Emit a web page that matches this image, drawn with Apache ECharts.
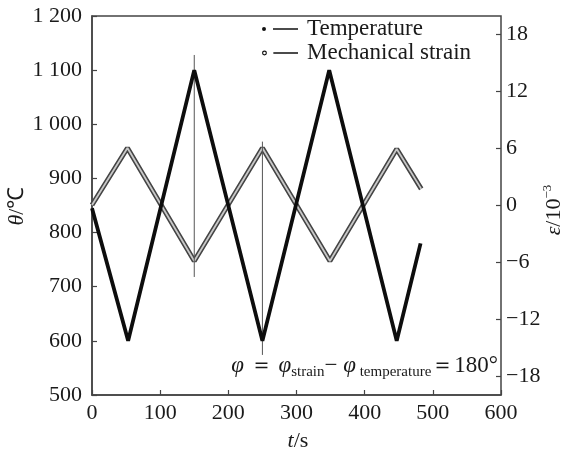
<!DOCTYPE html>
<html>
<head>
<meta charset="utf-8">
<script src="https://cdn.jsdelivr.net/npm/echarts@6/dist/echarts.min.js"></script>
<style>html,body{margin:0;padding:0;background:#fff;}#c{width:569px;height:454px;}</style>
</head>
<body>
<div id="c"></div>
<script>
// Data
const temperature = [[0, 845], [53, 600], [150, 1100], [250, 600], [348, 1100], [447, 600], [482, 780]];
const strain = [[0, 0], [52, 6], [150, -5.9], [250, 6], [349, -5.9], [447, 5.9], [483, 1.7]];
const guide1 = [[150, 1128], [150, 718]];
const guide2 = [[250, 968], [250, 574]];
const xRange = [0, 600, 100];
const leftRange = [500, 1200, 100];
const rightRange = [-18, 18, 6];
const legendNames = ['Temperature', 'Mechanical strain'];

const FONT = "'Liberation Serif', 'Times New Roman', serif";
const TXT = '#1a1a1a';
const AX = '#444';

const chart = echarts.init(document.getElementById('c'), null, {renderer: 'canvas'});

const fmtThousands = v => {
  const s = String(v);
  return s.length > 3 ? s.slice(0, s.length - 3) + ' ' + s.slice(-3) : s;
};

const dotIcon = 'path://M0,4a2,2 0 1,0 4,0a2,2 0 1,0 -4,0z M11,3.3h25v1.4h-25z';
const ringIcon = 'path://M-0.5,4a2.5,2.5 0 1,0 5,0a2.5,2.5 0 1,0 -5,0z M3.3,4a1.3,1.3 0 1,1 -2.6,0a1.3,1.3 0 1,1 2.6,0z M11,3.3h25v1.4h-25z';

const option = {
  animation: false,
  backgroundColor: '#fff',
  textStyle: {fontFamily: FONT},
  grid: [
    {left: 92, right: 68, top: 16, bottom: 59, show: true, borderColor: AX, borderWidth: 1.5, containLabel: false},
    {left: 92, right: 68, top: 34, bottom: 78, show: false, containLabel: false}
  ],
  legend: {
    orient: 'vertical',
    left: 262, top: 17,
    padding: 0,
    itemGap: 0,
    itemWidth: 36, itemHeight: 6,
    textStyle: {fontFamily: FONT, fontSize: 23, color: TXT, lineHeight: 24, padding: [0, 0, 0, 4]},
    data: [
      {name: legendNames[0], icon: dotIcon, itemStyle: {color: '#111', borderColor: '#111', borderWidth: 0}},
      {name: legendNames[1], icon: ringIcon, itemStyle: {color: '#111', borderColor: '#111', borderWidth: 0}}
    ]
  },
  xAxis: [
    {
      gridIndex: 0, type: 'value', min: xRange[0], max: xRange[1], interval: xRange[2],
      axisLine: {show: true, onZero: false, lineStyle: {color: AX, width: 1.5}},
      axisTick: {show: true, inside: true, length: 5, lineStyle: {color: AX, width: 1.2}},
      axisLabel: {fontFamily: FONT, fontSize: 22, color: TXT, margin: 7},
      splitLine: {show: false}
    },
    {
      gridIndex: 1, type: 'value', min: xRange[0], max: xRange[1], show: false,
      axisLine: {onZero: false}
    }
  ],
  yAxis: [
    {
      gridIndex: 0, type: 'value', position: 'left', min: leftRange[0], max: leftRange[1], interval: leftRange[2],
      axisLine: {show: true, onZero: false, lineStyle: {color: AX, width: 1.5}},
      axisTick: {show: true, inside: true, length: 5, lineStyle: {color: AX, width: 1.2}},
      axisLabel: {fontFamily: FONT, fontSize: 22, color: TXT, margin: 10, formatter: fmtThousands},
      splitLine: {show: false}
    },
    {
      gridIndex: 1, type: 'value', position: 'right', min: rightRange[0], max: rightRange[1], interval: rightRange[2],
      axisLine: {show: false, onZero: false},
      axisTick: {show: true, inside: true, length: 5, lineStyle: {color: AX, width: 1.2}},
      axisLabel: {fontFamily: FONT, fontSize: 22, color: TXT, margin: 5, formatter: v => (v < 0 ? '\u2212' + Math.abs(v) : String(v))},
      splitLine: {show: false}
    }
  ],
  graphic: [
    {
      type: 'text', x: 17, y: 206, rotation: Math.PI / 2,
      style: {
        text: '{i|θ}{n|/℃}', align: 'center', verticalAlign: 'middle', fill: TXT,
        rich: {
          i: {fontStyle: 'italic', fontSize: 22, fontFamily: FONT, fill: TXT},
          n: {fontSize: 22, fontFamily: FONT, fill: TXT}
        }
      }
    },
    {
      type: 'text', x: 553, y: 210, rotation: Math.PI / 2,
      style: {
        text: '{i|ε}{n|/10}{s|\u22123}', align: 'center', verticalAlign: 'middle', fill: TXT,
        rich: {
          i: {fontStyle: 'italic', fontSize: 22, fontFamily: FONT, fill: TXT, lineHeight: 24, verticalAlign: 'bottom'},
          n: {fontSize: 22, fontFamily: FONT, fill: TXT, lineHeight: 24, verticalAlign: 'bottom'},
          s: {fontSize: 13, fontFamily: FONT, fill: TXT, lineHeight: 13, padding: [0, 0, 14, 0], verticalAlign: 'top'}
        }
      }
    },
    {
      type: 'text', x: 298, y: 441,
      style: {
        text: '{i|t}{n|/s}', align: 'center', verticalAlign: 'middle', fill: TXT,
        rich: {
          i: {fontStyle: 'italic', fontSize: 22, fontFamily: FONT, fill: TXT},
          n: {fontSize: 22, fontFamily: FONT, fill: TXT}
        }
      }
    },
    {
      type: 'text', x: 498, y: 354,
      style: {
        text: '{i|φ}{m| ＝ }{i|φ}{s|strain}{m|\u2212 }{i|φ}{s| temperature}{m|＝180°}',
        align: 'right', verticalAlign: 'top', fill: TXT,
        rich: {
          m: {fontSize: 23, fontFamily: FONT, fill: TXT, lineHeight: 26, verticalAlign: 'top'},
          i: {fontSize: 23, fontFamily: FONT, fontStyle: 'italic', fill: TXT, lineHeight: 26, verticalAlign: 'top'},
          s: {fontSize: 15, fontFamily: FONT, fill: TXT, lineHeight: 15, padding: [17, 0, 0, 0], verticalAlign: 'bottom'}
        }
      }
    }
  ],
  series: [
    {
      name: legendNames[1], type: 'line', xAxisIndex: 1, yAxisIndex: 1, data: strain,
      symbol: 'none', lineStyle: {color: '#444', width: 5}, itemStyle: {color: '#111'}, z: 2
    },
    {
      name: '_strainInner', type: 'line', xAxisIndex: 1, yAxisIndex: 1, data: strain,
      symbol: 'none', lineStyle: {color: '#c8c8c8', width: 1.8}, z: 3, silent: true
    },
    {
      name: '_guide1', type: 'line', xAxisIndex: 0, yAxisIndex: 0, data: guide1,
      symbol: 'none', lineStyle: {color: '#555', width: 1}, z: 4, silent: true
    },
    {
      name: '_guide2', type: 'line', xAxisIndex: 0, yAxisIndex: 0, data: guide2,
      symbol: 'none', lineStyle: {color: '#555', width: 1}, z: 4, silent: true
    },
    {
      name: legendNames[0], type: 'line', xAxisIndex: 0, yAxisIndex: 0, data: temperature,
      symbol: 'none', lineStyle: {color: '#0d0d0d', width: 3.8}, itemStyle: {color: '#111'}, z: 5
    }
  ]
};
chart.setOption(option);
</script>
</body>
</html>
